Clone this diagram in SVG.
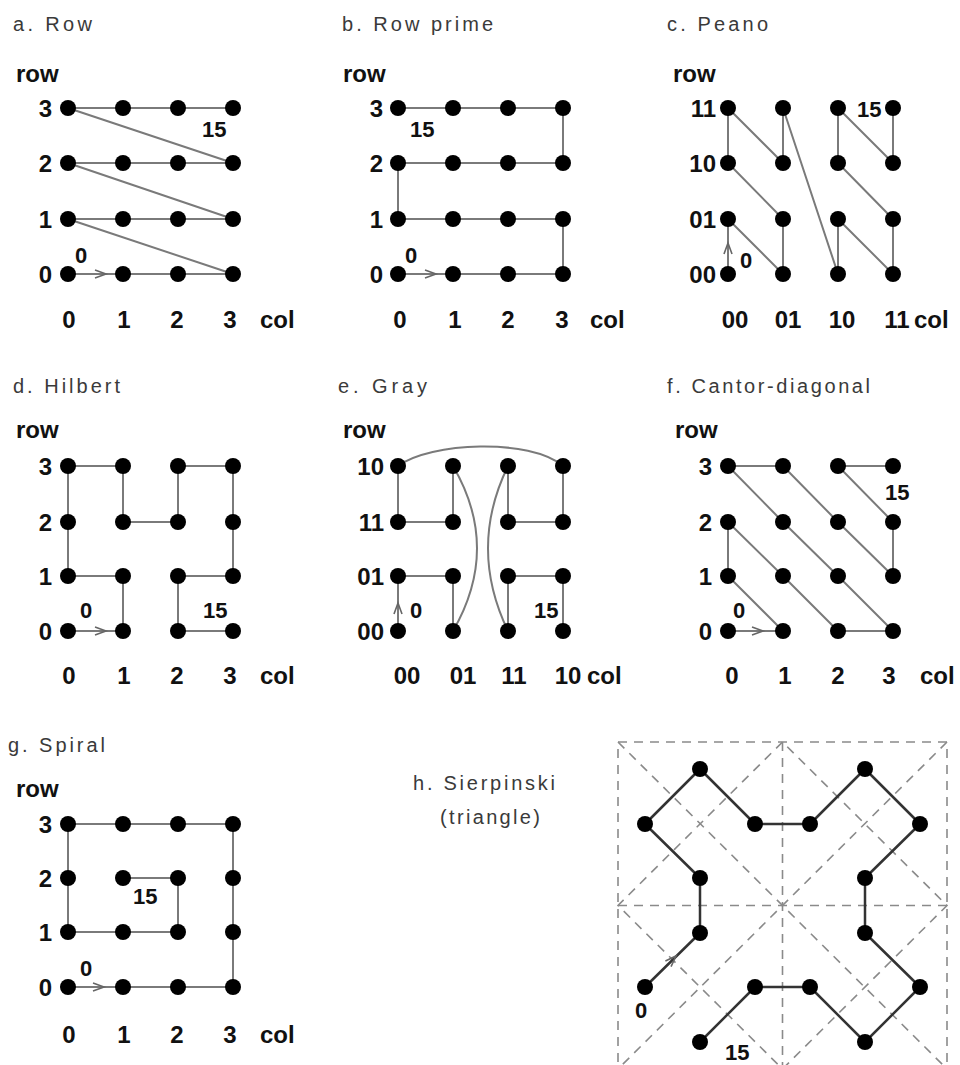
<svg xmlns="http://www.w3.org/2000/svg" xmlns:xlink="http://www.w3.org/1999/xlink" width="960" height="1065" viewBox="0 0 960 1065">
<defs>
<style>
.title{font-family:"Liberation Sans",Arial,sans-serif;font-size:20px;fill:#3a3a3a}
.lab{font-family:"Liberation Sans",Arial,sans-serif;font-size:24px;font-weight:bold;fill:#111}
.rl{font-family:"Liberation Sans",Arial,sans-serif;font-size:24px;font-weight:bold;fill:#111;text-anchor:end}
.cl{font-family:"Liberation Sans",Arial,sans-serif;font-size:24px;font-weight:bold;fill:#111;text-anchor:middle}
.num{font-family:"Liberation Sans",Arial,sans-serif;font-size:22px;font-weight:bold;fill:#111}
.curve{fill:none;stroke:#7a7a7a;stroke-width:2;stroke-linejoin:round}
.hcurve{fill:none;stroke:#333;stroke-width:2.5;stroke-linejoin:round}
.dash{fill:none;stroke:#8a8a8a;stroke-width:1.6;stroke-dasharray:9,7}
.dot{fill:#000}
</style>
<path id="chev" d="M-11,-4 L0,0 L-11,4" fill="none" stroke="#666" stroke-width="1.6"/>
</defs>
<rect width="960" height="1065" fill="#fff"/>

<!-- Panel a -->
<g id="panel-a">
<text class="title" x="13" y="31" textLength="79">a. Row</text>
<text class="lab" x="16" y="82">row</text>
<text class="rl" x="52" y="117">3</text><text class="rl" x="52" y="172">2</text><text class="rl" x="52" y="228">1</text><text class="rl" x="52" y="283">0</text>
<text class="cl" x="69" y="328">0</text><text class="cl" x="124" y="328">1</text><text class="cl" x="177" y="328">2</text><text class="cl" x="230" y="328">3</text><text class="lab" x="260" y="328">col</text>
<g id="a-connectors"><polyline class="curve" points="68,274 233,274 68,219 233,219 68,163 233,163 68,108 233,108"/><use xlink:href="#chev" transform="translate(106,274)"/></g>
<g id="a-nodes" class="dot">
<circle cx="68" cy="274" r="8"/><circle cx="123" cy="274" r="8"/><circle cx="178" cy="274" r="8"/><circle cx="233" cy="274" r="8"/>
<circle cx="68" cy="219" r="8"/><circle cx="123" cy="219" r="8"/><circle cx="178" cy="219" r="8"/><circle cx="233" cy="219" r="8"/>
<circle cx="68" cy="163" r="8"/><circle cx="123" cy="163" r="8"/><circle cx="178" cy="163" r="8"/><circle cx="233" cy="163" r="8"/>
<circle cx="68" cy="108" r="8"/><circle cx="123" cy="108" r="8"/><circle cx="178" cy="108" r="8"/><circle cx="233" cy="108" r="8"/>
</g>
<text class="num" x="75" y="263">0</text><text class="num" x="202" y="137">15</text>
</g>

<!-- Panel b -->
<g id="panel-b">
<text class="title" x="342" y="31" textLength="151">b. Row prime</text>
<text class="lab" x="343" y="82">row</text>
<text class="rl" x="383" y="117">3</text><text class="rl" x="383" y="172">2</text><text class="rl" x="383" y="228">1</text><text class="rl" x="383" y="283">0</text>
<text class="cl" x="400" y="328">0</text><text class="cl" x="455" y="328">1</text><text class="cl" x="508" y="328">2</text><text class="cl" x="562" y="328">3</text><text class="lab" x="590" y="328">col</text>
<g id="b-connectors"><polyline class="curve" points="398,274 563,274 563,219 398,219 398,163 563,163 563,108 398,108"/><use xlink:href="#chev" transform="translate(436,274)"/></g>
<g id="b-nodes" class="dot">
<circle cx="398" cy="274" r="8"/><circle cx="453" cy="274" r="8"/><circle cx="508" cy="274" r="8"/><circle cx="563" cy="274" r="8"/>
<circle cx="398" cy="219" r="8"/><circle cx="453" cy="219" r="8"/><circle cx="508" cy="219" r="8"/><circle cx="563" cy="219" r="8"/>
<circle cx="398" cy="163" r="8"/><circle cx="453" cy="163" r="8"/><circle cx="508" cy="163" r="8"/><circle cx="563" cy="163" r="8"/>
<circle cx="398" cy="108" r="8"/><circle cx="453" cy="108" r="8"/><circle cx="508" cy="108" r="8"/><circle cx="563" cy="108" r="8"/>
</g>
<text class="num" x="405" y="263">0</text><text class="num" x="410" y="137">15</text>
</g>

<!-- Panel c -->
<g id="panel-c">
<text class="title" x="667" y="31" textLength="101">c. Peano</text>
<text class="lab" x="673" y="82">row</text>
<text class="rl" x="716" y="117">11</text><text class="rl" x="716" y="172">10</text><text class="rl" x="716" y="228">01</text><text class="rl" x="716" y="283">00</text>
<text class="cl" x="735" y="328">00</text><text class="cl" x="788" y="328">01</text><text class="cl" x="842" y="328">10</text><text class="cl" x="897" y="328">11</text><text class="lab" x="914" y="328">col</text>
<g id="c-connectors"><polyline class="curve" points="728,274 728,219 783,274 783,219 728,163 728,108 783,163 783,108 838,274 838,219 893,274 893,219 838,163 838,108 893,163 893,108"/><use xlink:href="#chev" transform="translate(728,243) rotate(-90)"/></g>
<g id="c-nodes" class="dot">
<circle cx="728" cy="274" r="8"/><circle cx="783" cy="274" r="8"/><circle cx="838" cy="274" r="8"/><circle cx="893" cy="274" r="8"/>
<circle cx="728" cy="219" r="8"/><circle cx="783" cy="219" r="8"/><circle cx="838" cy="219" r="8"/><circle cx="893" cy="219" r="8"/>
<circle cx="728" cy="163" r="8"/><circle cx="783" cy="163" r="8"/><circle cx="838" cy="163" r="8"/><circle cx="893" cy="163" r="8"/>
<circle cx="728" cy="108" r="8"/><circle cx="783" cy="108" r="8"/><circle cx="838" cy="108" r="8"/><circle cx="893" cy="108" r="8"/>
</g>
<text class="num" x="740" y="268">0</text><text class="num" x="857" y="117">15</text>
</g>

<!-- Panel d -->
<g id="panel-d">
<text class="title" x="13" y="393" textLength="107">d. Hilbert</text>
<text class="lab" x="16" y="438">row</text>
<text class="rl" x="52" y="475">3</text><text class="rl" x="52" y="531">2</text><text class="rl" x="52" y="585">1</text><text class="rl" x="52" y="640">0</text>
<text class="cl" x="69" y="684">0</text><text class="cl" x="124" y="684">1</text><text class="cl" x="177" y="684">2</text><text class="cl" x="230" y="684">3</text><text class="lab" x="260" y="684">col</text>
<g id="d-connectors"><polyline class="curve" points="68,631 123,631 123,576 68,576 68,522 68,466 123,466 123,522 178,522 178,466 233,466 233,522 233,576 178,576 178,631 233,631"/><use xlink:href="#chev" transform="translate(106,631)"/></g>
<g id="d-nodes" class="dot">
<circle cx="68" cy="631" r="8"/><circle cx="123" cy="631" r="8"/><circle cx="178" cy="631" r="8"/><circle cx="233" cy="631" r="8"/>
<circle cx="68" cy="576" r="8"/><circle cx="123" cy="576" r="8"/><circle cx="178" cy="576" r="8"/><circle cx="233" cy="576" r="8"/>
<circle cx="68" cy="522" r="8"/><circle cx="123" cy="522" r="8"/><circle cx="178" cy="522" r="8"/><circle cx="233" cy="522" r="8"/>
<circle cx="68" cy="466" r="8"/><circle cx="123" cy="466" r="8"/><circle cx="178" cy="466" r="8"/><circle cx="233" cy="466" r="8"/>
</g>
<text class="num" x="80" y="618">0</text><text class="num" x="203" y="618">15</text>
</g>

<!-- Panel e -->
<g id="panel-e">
<text class="title" x="338" y="393" textLength="89">e. Gray</text>
<text class="lab" x="343" y="438">row</text>
<text class="rl" x="384" y="475">10</text><text class="rl" x="384" y="531">11</text><text class="rl" x="384" y="585">01</text><text class="rl" x="384" y="640">00</text>
<text class="cl" x="407" y="684">00</text><text class="cl" x="463" y="684">01</text><text class="cl" x="514" y="684">11</text><text class="cl" x="568" y="684">10</text><text class="lab" x="587" y="684">col</text>
<g id="e-connectors">
<path class="curve" d="M398,631 L398,576 L453,576 L453,631 Q501,548 453,466 L453,522 L398,522 L398,466 C430,442 530,438 563,466 L563,522 L508,522 L508,466 Q468,548 508,631 L508,576 L563,576 L563,631"/>
<use xlink:href="#chev" transform="translate(398,603) rotate(-90)"/>
</g>
<g id="e-nodes" class="dot">
<circle cx="398" cy="631" r="8"/><circle cx="453" cy="631" r="8"/><circle cx="508" cy="631" r="8"/><circle cx="563" cy="631" r="8"/>
<circle cx="398" cy="576" r="8"/><circle cx="453" cy="576" r="8"/><circle cx="508" cy="576" r="8"/><circle cx="563" cy="576" r="8"/>
<circle cx="398" cy="522" r="8"/><circle cx="453" cy="522" r="8"/><circle cx="508" cy="522" r="8"/><circle cx="563" cy="522" r="8"/>
<circle cx="398" cy="466" r="8"/><circle cx="453" cy="466" r="8"/><circle cx="508" cy="466" r="8"/><circle cx="563" cy="466" r="8"/>
</g>
<text class="num" x="410" y="618">0</text><text class="num" x="534" y="618">15</text>
</g>

<!-- Panel f -->
<g id="panel-f">
<text class="title" x="667" y="393" textLength="203">f. Cantor-diagonal</text>
<text class="lab" x="675" y="438">row</text>
<text class="rl" x="712" y="475">3</text><text class="rl" x="712" y="531">2</text><text class="rl" x="712" y="585">1</text><text class="rl" x="712" y="640">0</text>
<text class="cl" x="732" y="684">0</text><text class="cl" x="785" y="684">1</text><text class="cl" x="838" y="684">2</text><text class="cl" x="889" y="684">3</text><text class="lab" x="920" y="684">col</text>
<g id="f-connectors"><polyline class="curve" points="728,631 783,631 728,576 728,522 783,576 838,631 893,631 838,576 783,522 728,466 783,466 838,522 893,576 893,522 838,466 893,466"/><use xlink:href="#chev" transform="translate(763,631)"/></g>
<g id="f-nodes" class="dot">
<circle cx="728" cy="631" r="8"/><circle cx="783" cy="631" r="8"/><circle cx="838" cy="631" r="8"/><circle cx="893" cy="631" r="8"/>
<circle cx="728" cy="576" r="8"/><circle cx="783" cy="576" r="8"/><circle cx="838" cy="576" r="8"/><circle cx="893" cy="576" r="8"/>
<circle cx="728" cy="522" r="8"/><circle cx="783" cy="522" r="8"/><circle cx="838" cy="522" r="8"/><circle cx="893" cy="522" r="8"/>
<circle cx="728" cy="466" r="8"/><circle cx="783" cy="466" r="8"/><circle cx="838" cy="466" r="8"/><circle cx="893" cy="466" r="8"/>
</g>
<text class="num" x="733" y="618">0</text><text class="num" x="885" y="500">15</text>
</g>

<!-- Panel g -->
<g id="panel-g">
<text class="title" x="8" y="752" textLength="97">g. Spiral</text>
<text class="lab" x="16" y="797">row</text>
<text class="rl" x="52" y="833">3</text><text class="rl" x="52" y="887">2</text><text class="rl" x="52" y="941">1</text><text class="rl" x="52" y="996">0</text>
<text class="cl" x="69" y="1043">0</text><text class="cl" x="124" y="1043">1</text><text class="cl" x="177" y="1043">2</text><text class="cl" x="230" y="1043">3</text><text class="lab" x="260" y="1043">col</text>
<g id="g-connectors"><polyline class="curve" points="68,987 233,987 233,824 68,824 68,932 178,932 178,878 123,878"/><use xlink:href="#chev" transform="translate(104,987)"/></g>
<g id="g-nodes" class="dot">
<circle cx="68" cy="987" r="8"/><circle cx="123" cy="987" r="8"/><circle cx="178" cy="987" r="8"/><circle cx="233" cy="987" r="8"/>
<circle cx="68" cy="932" r="8"/><circle cx="123" cy="932" r="8"/><circle cx="178" cy="932" r="8"/><circle cx="233" cy="932" r="8"/>
<circle cx="68" cy="878" r="8"/><circle cx="123" cy="878" r="8"/><circle cx="178" cy="878" r="8"/><circle cx="233" cy="878" r="8"/>
<circle cx="68" cy="824" r="8"/><circle cx="123" cy="824" r="8"/><circle cx="178" cy="824" r="8"/><circle cx="233" cy="824" r="8"/>
</g>
<text class="num" x="80" y="976">0</text><text class="num" x="133" y="904">15</text>
</g>

<!-- Panel h -->
<g id="panel-h">
<text class="title" x="413" y="790" textLength="142">h. Sierpinski</text>
<text class="title" x="440" y="824" textLength="100">(triangle)</text>
<g id="h-grid">
<rect class="dash" x="618" y="742" width="329" height="327"/>
<line class="dash" x1="782.5" y1="742" x2="782.5" y2="1069"/>
<line class="dash" x1="618" y1="905.5" x2="947" y2="905.5"/>
<line class="dash" x1="618" y1="742" x2="947" y2="1069"/>
<line class="dash" x1="947" y1="742" x2="618" y2="1069"/>
<polygon class="dash" points="782.5,742 618,905.5 782.5,1069 947,905.5"/>
</g>
<g id="h-connectors"><polyline class="hcurve" points="645,987 700,933 700,878 645,824 700,769 755,824 810,824 865,769 920,824 865,878 865,933 920,987 865,1042 810,987 755,987 700,1042"/><use xlink:href="#chev" transform="translate(676,956) rotate(-45)"/></g>
<g id="h-nodes" class="dot">
<circle cx="645" cy="987" r="8"/><circle cx="700" cy="933" r="8"/><circle cx="700" cy="878" r="8"/><circle cx="645" cy="824" r="8"/>
<circle cx="700" cy="769" r="8"/><circle cx="755" cy="824" r="8"/><circle cx="810" cy="824" r="8"/><circle cx="865" cy="769" r="8"/>
<circle cx="920" cy="824" r="8"/><circle cx="865" cy="878" r="8"/><circle cx="865" cy="933" r="8"/><circle cx="920" cy="987" r="8"/>
<circle cx="865" cy="1042" r="8"/><circle cx="810" cy="987" r="8"/><circle cx="755" cy="987" r="8"/><circle cx="700" cy="1042" r="8"/>
</g>
<text class="num" x="635" y="1018">0</text><text class="num" x="725" y="1060">15</text>
</g>
</svg>
